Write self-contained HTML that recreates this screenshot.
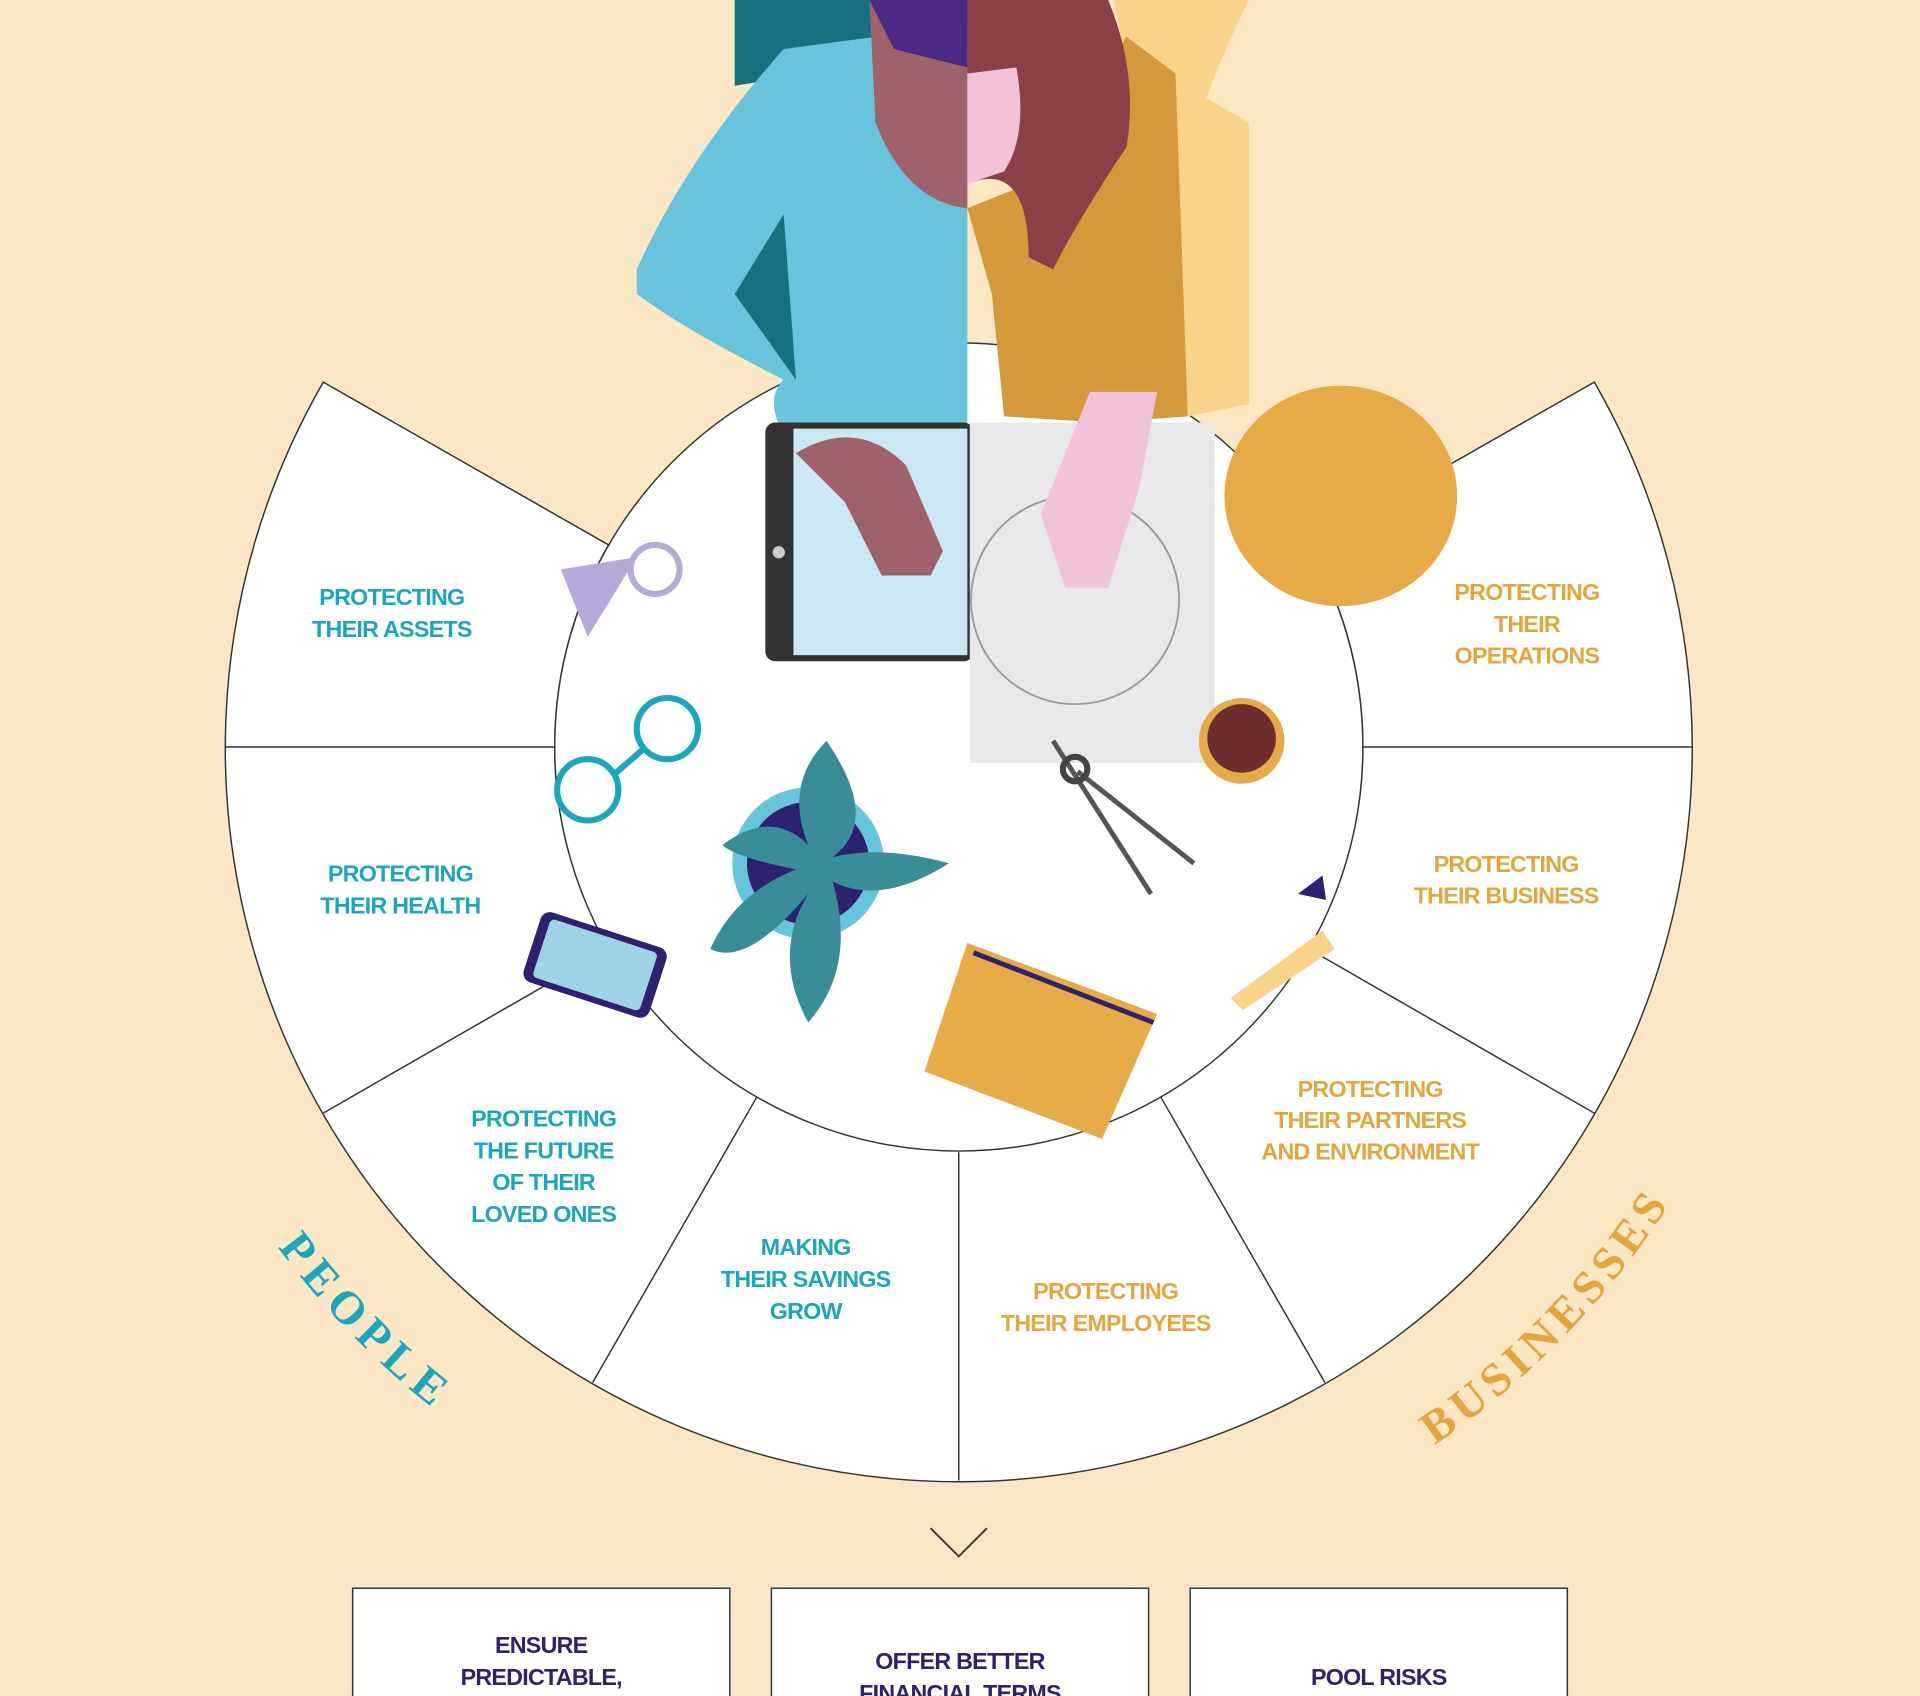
<!DOCTYPE html>
<html><head><meta charset="utf-8"><style>
html,body{margin:0;padding:0;background:#fbe7c3;}
svg{display:block}
.t{font-family:"Liberation Sans Narrow","Liberation Sans",sans-serif;font-size:19px;text-anchor:middle;letter-spacing:-0.6px;font-weight:bold}
.p{fill:#1ba6c0}.b{fill:#e3a53c}.n{fill:#2d2170}
</style></head><body>
<svg width="1920" height="1696" viewBox="0 0 1568 1385" xmlns="http://www.w3.org/2000/svg">
<rect width="1568" height="1385" fill="#fbe7c3"/>
<g stroke="#333" stroke-width="1.2">
<path d="M264,312 A599,599 0 1 0 1302,312 L1069,445 A330,330 0 1 1 497,445 Z" fill="#fff"/>
<circle cx="783" cy="610" r="330" fill="#fff"/>
<line x1="184" y1="610" x2="453" y2="610"/>
<line x1="1113" y1="610" x2="1382" y2="610"/>
<line x1="264" y1="909" x2="497" y2="775"/>
<line x1="1302" y1="909" x2="1069" y2="775"/>
<line x1="484" y1="1129" x2="618" y2="896"/>
<line x1="1082" y1="1129" x2="948" y2="896"/>
<line x1="783" y1="1209" x2="783" y2="941"/>
</g>
<path d="M600,0 L790,0 L790,40 L600,70 Z" fill="#17707e"/>
<path d="M520,220 Q560,130 640,40 L790,20 L790,345 L650,370 Q620,330 640,310 Q560,270 520,240 Z" fill="#68c4da"/>
<path d="M600,240 L640,175 L650,310 Z" fill="#17707e"/>
<path d="M710,0 L790,0 L790,170 Q740,165 715,100 Z" fill="#a0626a"/>
<path d="M710,0 L790,0 L790,55 L730,40 Z" fill="#4b2a87"/>
<path d="M910,0 L1020,0 Q1000,40 985,80 L1020,100 L1020,330 L970,340 Z" fill="#f8d48b"/>
<path d="M790,170 L840,150 L920,30 L960,60 L970,340 L900,345 L820,340 L810,240 Z" fill="#d4993a"/>
<path d="M790,0 L905,0 Q930,60 920,120 Q880,180 860,220 L840,210 Q840,130 790,150 Z" fill="#8b3f47"/>
<path d="M790,60 L830,55 Q840,110 820,140 L790,150 Z" fill="#f2c2d8"/>
<rect x="625" y="345" width="170" height="195" rx="8" fill="#333"/>
<rect x="648" y="350" width="142" height="185" fill="#c9e8f1"/>
<circle cx="636" cy="451" r="5" fill="#ccc"/>
<path d="M650,370 Q700,340 740,380 L770,450 L760,470 L720,470 L690,410 Z" fill="#a0626a"/>
<rect x="792" y="345" width="200" height="278" fill="#e8e8ea"/>
<circle cx="878" cy="490" r="85" fill="none" stroke="#999" stroke-width="1.5"/>
<path d="M890,320 L945,320 L930,400 L905,480 L870,480 L850,420 Z" fill="#f2c2d8"/>
<ellipse cx="1095" cy="405" rx="95" ry="90" fill="#e6aa47"/>
<circle cx="1014" cy="605" r="35" fill="#e6aa47"/><circle cx="1014" cy="603" r="28" fill="#6e2e2e"/>
<circle cx="660" cy="705" r="62" fill="#68c4da"/><circle cx="660" cy="705" r="50" fill="#2d2170"/>
<path d="M675,605 Q720,670 680,700 Q720,690 775,705 Q720,740 680,720 Q700,790 660,835 Q630,780 660,730 Q610,790 580,775 Q600,730 650,710 Q600,700 590,690 Q630,660 660,690 Q640,640 675,605Z" fill="#388d99"/>
<path d="M790,770 L945,828 L900,930 L755,875 Z" fill="#e6aa47"/>
<line x1="795" y1="778" x2="942" y2="835" stroke="#2d2170" stroke-width="4"/>
<rect x="432" y="758" width="108" height="60" rx="8" fill="#2d2170" transform="rotate(18 486 788)"/>
<rect x="440" y="763" width="92" height="50" rx="4" fill="#9dd3e3" transform="rotate(18 486 788)"/>
<g fill="none" stroke="#1ba6c0" stroke-width="5"><circle cx="480" cy="645" r="25"/><circle cx="545" cy="595" r="25"/><line x1="502" y1="632" x2="525" y2="612"/></g>
<circle cx="535" cy="465" r="20" fill="none" stroke="#b7a8da" stroke-width="5"/>
<path d="M458,465 L520,455 L480,520 Z" fill="#b7a8da"/>
<path d="M860,605 L940,730 M880,630 L975,705" stroke="#555" stroke-width="4"/>
<circle cx="878" cy="628" r="10" fill="none" stroke="#444" stroke-width="5"/>
<path d="M1005,815 L1080,760 L1090,775 L1015,825Z" fill="#f8d48b"/>
<path d="M1060,730 L1080,715 L1083,735Z" fill="#2d2170"/>
<g class="t p">
<text x="320" y="494">PROTECTING</text><text x="320" y="520">THEIR ASSETS</text>
<text x="327" y="720">PROTECTING</text><text x="327" y="746">THEIR HEALTH</text>
<text x="444" y="920">PROTECTING</text><text x="444" y="946">THE FUTURE</text><text x="444" y="972">OF THEIR</text><text x="444" y="998">LOVED ONES</text>
<text x="658" y="1025">MAKING</text><text x="658" y="1051">THEIR SAVINGS</text><text x="658" y="1077">GROW</text>
</g>
<g class="t b">
<text x="1247" y="490">PROTECTING</text><text x="1247" y="516">THEIR</text><text x="1247" y="542">OPERATIONS</text>
<text x="1230" y="712">PROTECTING</text><text x="1230" y="738">THEIR BUSINESS</text>
<text x="1119" y="896">PROTECTING</text><text x="1119" y="921">THEIR PARTNERS</text><text x="1119" y="947">AND ENVIRONMENT</text>
<text x="903" y="1061">PROTECTING</text><text x="903" y="1087">THEIR EMPLOYEES</text>
</g>
<defs><path id="arc" d="M93,610 A690,690 0 0 0 1473,610"/></defs>
<text font-family="Liberation Serif,serif" font-weight="bold" font-size="38" letter-spacing="6" text-anchor="middle" fill="#1ba6c0"><textPath href="#arc" startOffset="24.5%">PEOPLE</textPath></text>
<text font-family="Liberation Serif,serif" font-weight="bold" font-size="38" letter-spacing="5" text-anchor="middle" fill="#e3a53c"><textPath href="#arc" startOffset="75.5%">BUSINESSES</textPath></text>
<path d="M760,1248 L783,1271 L806,1248" fill="none" stroke="#333" stroke-width="1.5"/>
<g fill="#fff" stroke="#333" stroke-width="1.2">
<rect x="288" y="1297" width="308" height="100"/>
<rect x="630" y="1297" width="308" height="100"/>
<rect x="972" y="1297" width="308" height="100"/>
</g>
<g class="t n">
<text x="442" y="1350">ENSURE</text><text x="442" y="1376">PREDICTABLE,</text>
<text x="784" y="1363">OFFER BETTER</text><text x="784" y="1389">FINANCIAL TERMS</text>
<text x="1126" y="1376">POOL RISKS</text>
</g>
</svg>
</body></html>
